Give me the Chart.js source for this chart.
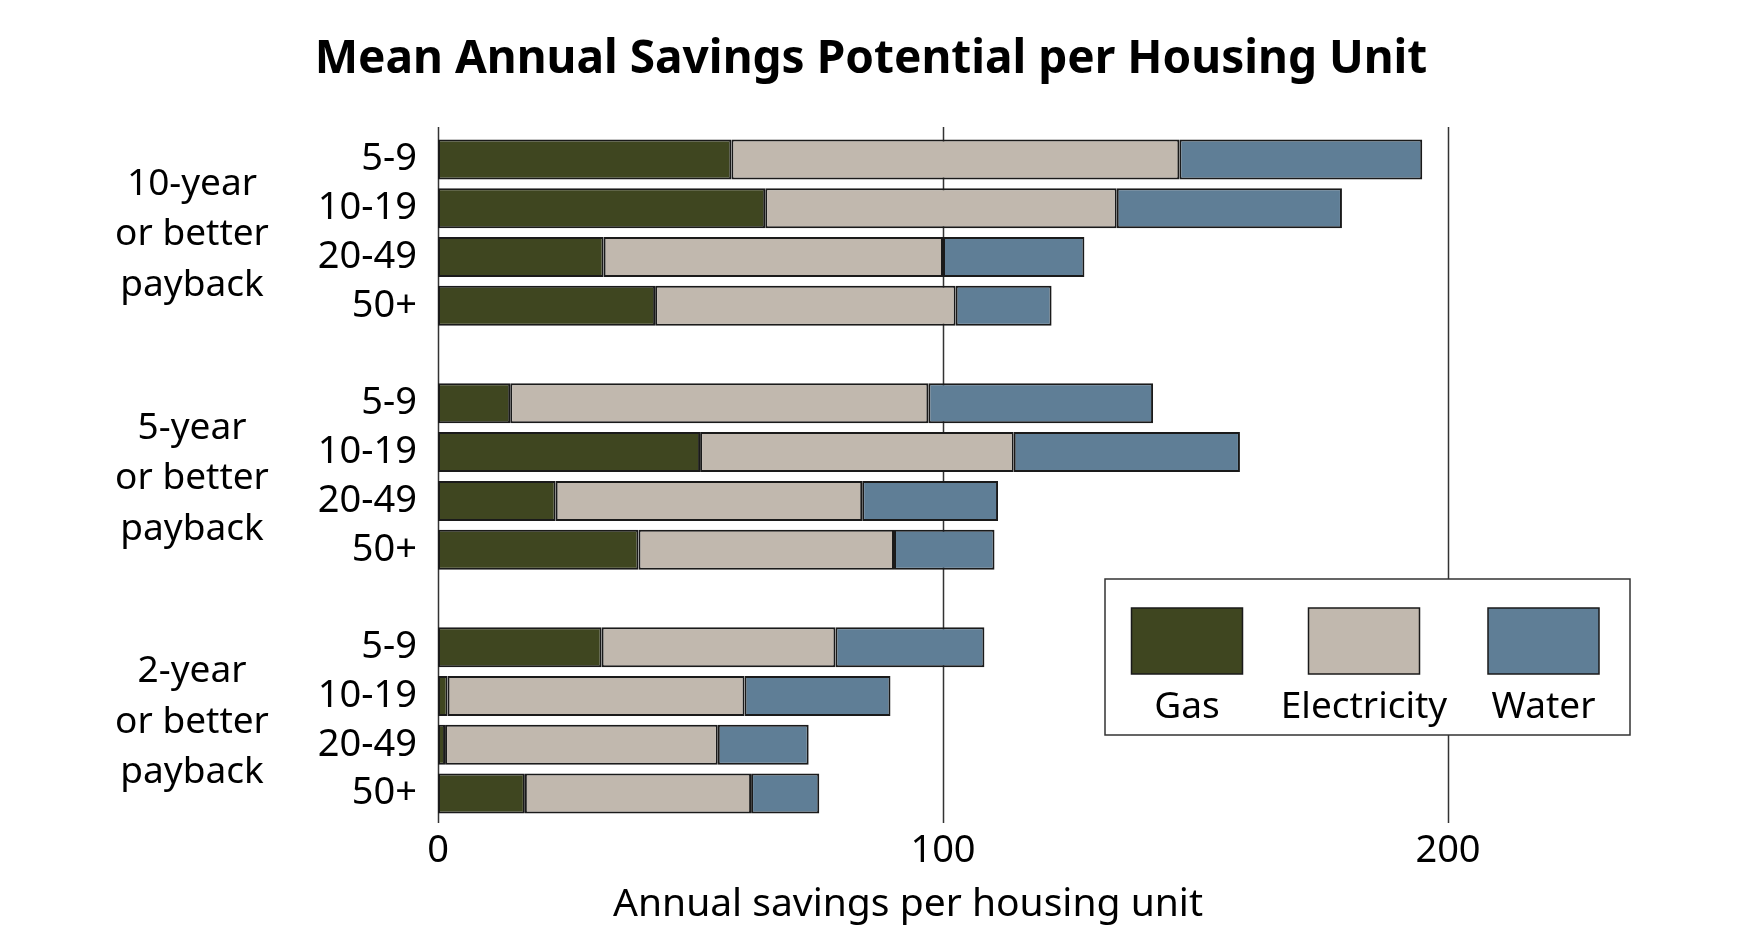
<!DOCTYPE html>
<html>
<head>
<meta charset="utf-8">
<title>Mean Annual Savings Potential per Housing Unit</title>
<script src="https://cdn.jsdelivr.net/npm/chart.js@4.4.0/dist/chart.umd.min.js"></script>
<style>
  html, body { margin: 0; padding: 0; background: #fff; }
  #grafico { display: block; }
</style>
</head>
<body>
<canvas id="grafico" width="1752" height="934"></canvas>
<script>
// dados
const tamanhos = ["5-9", "10-19", "20-49", "50+"];
const grupos = [
  ["10-year", "or better", "payback"],
  ["5-year", "or better", "payback"],
  ["2-year", "or better", "payback"]
];
const gas = [58.1, 64.8, 32.8, 43.0, 14.3, 51.9, 23.3, 39.7, 32.4, 1.9, 1.4, 17.2];
const eletricidade = [88.7, 69.6, 67.2, 59.5, 82.8, 62.1, 60.7, 50.6, 46.3, 58.8, 54.0, 44.8];
const agua = [48.1, 44.6, 28.0, 19.0, 44.5, 44.8, 26.9, 19.9, 29.5, 28.9, 18.0, 13.5];
const seriesNomes = ["Gas", "Electricity", "Water"];
const cores = ["#3f4620", "#c1b8ae", "#5f7e96"];
const xTicks = [0, 100, 200];
const xMax = 240;

const FONTE = "'Noto Sans', sans-serif";
const CONTORNO = "#1a1a1a";

// monta os rótulos com uma linha vazia entre os grupos
const rotulos = [];
grupos.forEach((g, i) => {
  tamanhos.forEach(t => rotulos.push(t));
  if (i < grupos.length - 1) rotulos.push("");
});

function comEspacos(valores) {
  const saida = [];
  grupos.forEach((g, i) => {
    valores.slice(i * tamanhos.length, (i + 1) * tamanhos.length).forEach(v => saida.push(v));
    if (i < grupos.length - 1) saida.push(null);
  });
  return saida;
}

// índice no eixo y de cada barra (pulando as linhas vazias)
function indiceLinha(grupo, linha) {
  return grupo * (tamanhos.length + 1) + linha;
}

// Linhas verticais (eixo e grade)
const gradePlugin = {
  id: "grade",
  beforeDatasetsDraw(chart) {
    const { ctx, chartArea, scales } = chart;
    ctx.save();
    ctx.strokeStyle = "#333";
    ctx.lineWidth = 1.5;
    xTicks.forEach(v => {
      const x = Math.round(scales.x.getPixelForValue(v)) + 0.5;
      ctx.beginPath();
      ctx.moveTo(x, chartArea.top - 8);
      ctx.lineTo(x, chartArea.bottom + 5);
      ctx.stroke();
    });
    ctx.restore();
  }
};

// Legenda no canto inferior direito
const legendaPlugin = {
  id: "legendaCaixa",
  afterDatasetsDraw(chart) {
    const { ctx, chartArea } = chart;
    const direita = chartArea.right - 20;
    const baixo = chartArea.bottom - 83;
    const largura = 525, altura = 156;
    const esquerda = direita - largura, topo = baixo - altura;
    ctx.save();
    ctx.fillStyle = "#fff";
    ctx.fillRect(esquerda, topo, largura, altura);
    ctx.strokeStyle = "#333";
    ctx.lineWidth = 1.5;
    ctx.strokeRect(esquerda, topo, largura, altura);

    const centros = [82, 259, 438.5];
    ctx.font = "37px " + FONTE;
    ctx.textAlign = "center";
    ctx.textBaseline = "alphabetic";
    seriesNomes.forEach((nome, i) => {
      const cx = esquerda + centros[i];
      ctx.fillStyle = cores[i];
      ctx.fillRect(cx - 55.5, topo + 29, 111, 66);
      ctx.strokeStyle = CONTORNO;
      ctx.strokeRect(cx - 55.5, topo + 29, 111, 66);
      ctx.fillStyle = "#000";
      ctx.fillText(nome, cx, topo + 139);
    });
    ctx.restore();
  }
};

// Títulos e rótulos dos grupos
const textosPlugin = {
  id: "textos",
  afterDraw(chart) {
    const { ctx, scales } = chart;
    ctx.save();
    ctx.fillStyle = "#000";
    ctx.textAlign = "center";

    ctx.font = "bold 46px " + FONTE;
    ctx.textBaseline = "alphabetic";
    ctx.fillText("Mean Annual Savings Potential per Housing Unit", 871, 73);

    ctx.font = "39px " + FONTE;
    ctx.fillText("Annual savings per housing unit", 908, 916);

    ctx.font = "37px " + FONTE;
    ctx.textBaseline = "middle";
    grupos.forEach((linhas, g) => {
      const y1 = scales.y.getPixelForValue(indiceLinha(g, 0));
      const y2 = scales.y.getPixelForValue(indiceLinha(g, tamanhos.length - 1));
      const centro = (y1 + y2) / 2 + 2;
      linhas.forEach((txt, i) => {
        ctx.fillText(txt, 192, centro + (i - 1) * 50.5);
      });
    });
    ctx.restore();
  }
};

Chart.defaults.font.family = FONTE;
Chart.defaults.color = "#000";

const valores = [gas, eletricidade, agua];
const ctx = document.getElementById("grafico").getContext("2d");

new Chart(ctx, {
  type: "bar",
  data: {
    labels: rotulos,
    datasets: seriesNomes.map((nome, i) => ({
      label: nome,
      data: comEspacos(valores[i]),
      backgroundColor: cores[i],
      borderColor: CONTORNO,
      borderWidth: 2,
      borderSkipped: false,
      categoryPercentage: 1,
      barPercentage: 0.82
    }))
  },
  options: {
    indexAxis: "y",
    responsive: false,
    animation: false,
    devicePixelRatio: 1,
    layout: { padding: { top: 135, right: 102, left: 0, bottom: 0 } },
    plugins: {
      legend: { display: false },
      title: { display: false },
      tooltip: { enabled: false }
    },
    scales: {
      x: {
        type: "linear",
        stacked: true,
        min: 0,
        max: xMax,
        grid: { display: false },
        border: { display: false },
        afterBuildTicks: s => { s.ticks = xTicks.map(v => ({ value: v })); },
        ticks: { font: { size: 38 }, padding: 2, maxRotation: 0 },
        afterFit: s => { s.height = 116; }
      },
      y: {
        stacked: true,
        grid: { display: false },
        border: { display: false },
        ticks: { font: { size: 38 }, padding: 13, autoSkip: false },
        afterFit: s => { s.width = 438; }
      }
    }
  },
  plugins: [gradePlugin, legendaPlugin, textosPlugin]
});
</script>
</body>
</html>
